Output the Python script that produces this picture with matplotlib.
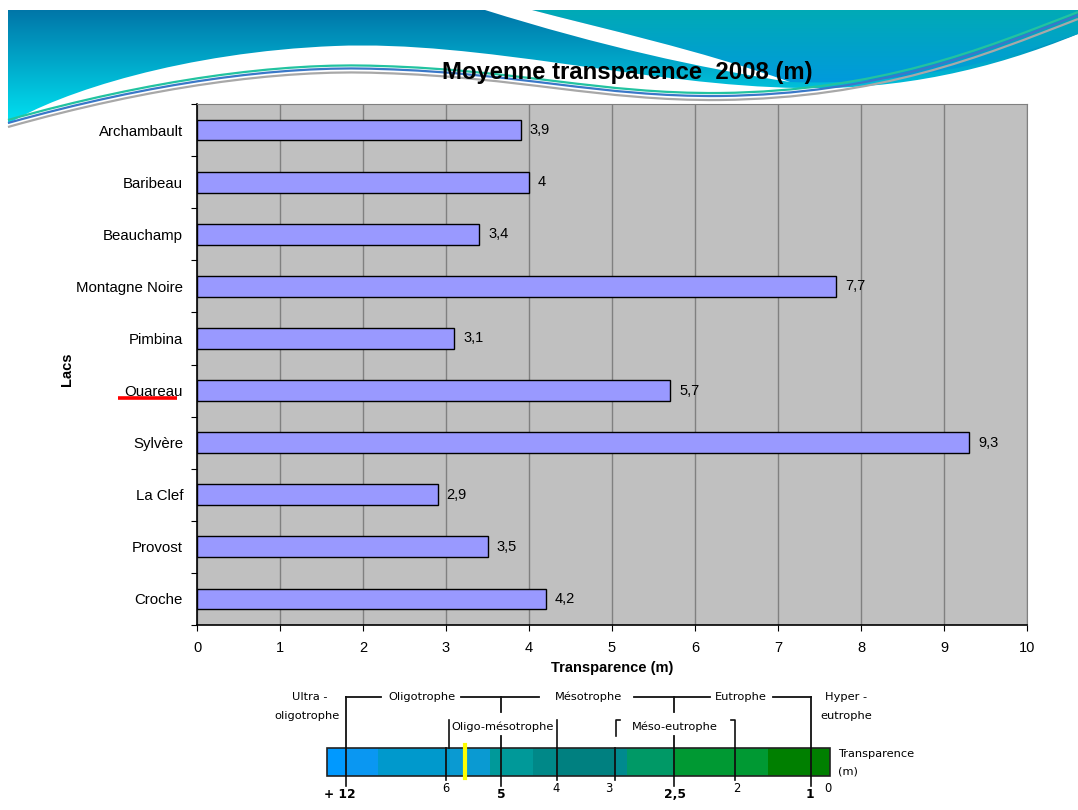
import numpy as np
import matplotlib
matplotlib.use("Agg")
import matplotlib.pyplot as plt
from matplotlib.path import Path
from matplotlib.patches import PathPatch, Rectangle
from matplotlib.colors import to_rgb

plt.rcParams['font.family'] = ['Liberation Sans', 'DejaVu Sans']

# ---- data -------------------------------------------------------------
lakes = ["Archambault", "Baribeau", "Beauchamp", "Montagne Noire", "Pimbina",
         "Ouareau", "Sylvère", "La Clef", "Provost", "Croche"]
transparency = [3.9, 4.0, 3.4, 7.7, 3.1, 5.7, 9.3, 2.9, 3.5, 4.2]
x_ticks = list(range(0, 11))

# trophic scale legend (transparency in m)
scale_labels = ["+ 12", "6", "5", "4", "3", "2,5", "2", "1", "0"]
scale_bold = [True, False, True, False, False, True, False, True, False]

W, H = 1078, 810
fig = plt.figure(figsize=(W / 100, H / 100), dpi=100)

# ---- decorative slide background (pixel coordinates) -------------------
bg = fig.add_axes([0, 0, 1, 1], zorder=0)
bg.set_xlim(0, W)
bg.set_ylim(H, 0)
bg.axis("off")


def bez_path(start, segs, close=True):
    verts = [start]
    codes = [Path.MOVETO]
    for seg in segs:
        if len(seg) == 3:
            verts += list(seg)
            codes += [Path.CURVE4] * 3
        else:
            verts.append(seg[0])
            codes.append(Path.LINETO)
    if close:
        verts.append(start)
        codes.append(Path.CLOSEPOLY)
    return Path(verts, codes)


def gradient(c_top, c_bot, n=200):
    a, b = np.array(to_rgb(c_top)), np.array(to_rgb(c_bot))
    t = np.linspace(0, 1, n)[:, None]
    return (a * (1 - t) + b * t)[:, None, :]


# main blue band with white hump underneath
blue_path = bez_path((1078, 34), [
    ((990, 70), (900, 90), (800, 88)),
    ((650, 86), (480, 40), (335, 46)),
    ((185, 52), (60, 92), (8, 124)),
    ((8, 10),),
    ((1078, 10),),
])
patch = PathPatch(blue_path, fc="none", ec="none")
bg.add_patch(patch)
im = bg.imshow(gradient("#0076A8", "#00E6F4"), extent=[0, W, 128, 10],
               origin="upper", aspect="auto", zorder=1)
im.set_clip_path(patch)

# teal region above the white swoosh
teal_path = bez_path((532, 10), [
    ((600, 28), (700, 50), (790, 82)),
    ((900, 86), (1000, 62), (1078, 34)),
    ((1078, 10),),
])
patch2 = PathPatch(teal_path, fc="none", ec="none")
bg.add_patch(patch2)
im2 = bg.imshow(gradient("#00AAB6", "#0098E2"), extent=[0, W, 92, 10],
                origin="upper", aspect="auto", zorder=2)
im2.set_clip_path(patch2)

# white swoosh
swoosh = bez_path((532, 10), [
    ((600, 28), (700, 50), (790, 82)),
    ((700, 68), (600, 46), (485, 10)),
])
bg.add_patch(PathPatch(swoosh, fc="white", ec="none", zorder=3))

# thin wave lines across the header
for dy, col in [(0, "#22C3A0"), (3, "#3A78C8"), (7, "#A8A8A8")]:
    wave = bez_path((8, 120 + dy), [
        ((150, 80 + dy), (280, 62 + dy), (380, 66 + dy)),
        ((520, 70 + dy), (600, 94 + dy), (720, 93 + dy)),
        ((880, 91 + dy), (980, 50 + dy), (1078, 12 + dy)),
    ], close=False)
    bg.add_patch(PathPatch(wave, fc="none", ec=col, lw=1.6, zorder=4))

bg.text(627, 73, "Moyenne transparence  2008 (m)", ha="center", va="center",
        fontsize=17.2, fontweight="bold", color="black", zorder=6)

# red underline under one lake name
bg.plot([118, 177], [398, 398], color="red", lw=2.6, solid_capstyle="butt", zorder=5)

# ---- bar chart --------------------------------------------------------
ax = fig.add_axes([197 / W, (H - 625) / H, 830 / W, 521 / H], zorder=2)
ax.set_facecolor("#C0C0C0")
ypos = np.arange(len(lakes))
ax.barh(ypos, transparency, height=0.4, color="#9999FF", edgecolor="black",
        linewidth=1.0, zorder=3)
for y, v in zip(ypos, transparency):
    ax.annotate(f"{v:g}".replace(".", ","), (v, y), xytext=(6.5, 0),
                textcoords="offset points", ha="left", va="center", fontsize=10.5)

ax.set_xlim(0, 10)
ax.set_ylim(len(lakes) - 0.5, -0.5)
ax.set_xticks(x_ticks)
ax.set_xticklabels([str(t) for t in x_ticks], fontsize=10.5)
ax.set_yticks(ypos)
ax.set_yticklabels(lakes, fontsize=10.8)
ax.set_yticks(np.arange(-0.5, len(lakes), 1), minor=True)
ax.tick_params(axis="y", which="major", length=0, pad=10)
ax.tick_params(axis="y", which="minor", length=4, width=0.8, color="black")
ax.tick_params(axis="x", which="major", length=4, width=0.8, pad=7.5)
ax.xaxis.grid(True, color="#808080", lw=1.0, zorder=1)
ax.set_axisbelow(True)
for s in ("top", "right"):
    ax.spines[s].set_color("#808080")
for s in ("left", "bottom"):
    ax.spines[s].set_color("black")
    ax.spines[s].set_linewidth(1.2)

ax.set_xlabel("Transparence (m)", fontsize=10.5, fontweight="bold", labelpad=4)
ax.set_ylabel("Lacs", fontsize=10.5, fontweight="bold")
ax.yaxis.set_label_coords((74 - 197) / 830, 0.49)

# ---- trophic scale legend (pixel coordinates) --------------------------
seg_edges = [327, 347, 378, 450, 490, 502, 533, 558, 615, 627, 673, 735, 768, 830]
seg_cols = ["#0099FF", "#0A97F2", "#0099CC", "#0A9AD2", "#00999A", "#009999",
            "#008888", "#008080", "#008A8E", "#009966", "#009933", "#009933",
            "#007F00"]
bar_top, bar_bot = 748, 776
for x0, x1, c in zip(seg_edges[:-1], seg_edges[1:], seg_cols):
    bg.add_patch(Rectangle((x0, bar_top), x1 - x0, bar_bot - bar_top,
                           fc=c, ec="none", zorder=5))
bg.add_patch(Rectangle((327, bar_top), 503, bar_bot - bar_top, fc="none",
                       ec="#222222", lw=1.2, zorder=6))

tick_x = [346, 446, 501, 557, 615, 674, 735, 811]
tick_long = [True, False, True, False, False, True, False, True]
for x, lg in zip(tick_x, tick_long):
    bg.plot([x, x], [bar_top, bar_bot], color="#111111", lw=1.3, zorder=7)
    bg.plot([x, x], [bar_bot, 786 if lg else 780], color="#111111", lw=1.2, zorder=7)
# current position marker
bg.plot([465, 465], [745, 778], color="#FFFF00", lw=3, zorder=8)

label_x = [340, 446, 501, 556, 609, 675, 737, 810, 828]
for x, lab, b in zip(label_x, scale_labels, scale_bold):
    bg.text(x, 795 if b else 789, lab, ha="center", va="center",
            fontsize=8.8 if b else 8.3, fontweight="bold" if b else "normal",
            family="DejaVu Sans", zorder=7)

kw = dict(family="DejaVu Sans", fontsize=8.2, zorder=7, va="center")
# upper bracket row
top_y = 697
for xa, xb in [(346, 381), (461, 539), (634, 710), (773, 811)]:
    bg.plot([xa, xb], [top_y, top_y], color="#111111", lw=1.3, zorder=7)
bg.plot([346, 346], [top_y, bar_top], color="#111111", lw=1.3, zorder=7)
bg.plot([811, 811], [top_y, bar_top], color="#111111", lw=1.3, zorder=7)
for x in (501, 674):
    bg.plot([x, x], [top_y, 712], color="#111111", lw=1.3, zorder=7)
    bg.plot([x, x], [736, bar_top], color="#111111", lw=1.3, zorder=7)
bg.text(422, top_y, "Oligotrophe", ha="center", **kw)
bg.text(588, top_y, "Mésotrophe", ha="center", **kw)
bg.text(741, top_y, "Eutrophe", ha="center", **kw)
bg.text(310, top_y, "Ultra -", ha="center", **kw)
bg.text(307, 716, "oligotrophe", ha="center", **kw)
bg.text(846, top_y, "Hyper -", ha="center", **kw)
bg.text(846, 716, "eutrophe", ha="center", **kw)

# lower bracket row
low_y = 727
bg.text(503, low_y, "Oligo-mésotrophe", ha="center", **kw)
bg.text(675, low_y, "Méso-eutrophe", ha="center", **kw)
bg.plot([449, 449], [720, bar_top], color="#111111", lw=1.2, zorder=7)
bg.plot([557, 557], [720, bar_top], color="#111111", lw=1.2, zorder=7)
bg.plot([620, 616, 616], [720, 720, 736], color="#111111", lw=1.2, zorder=7)
bg.plot([731, 735, 735], [720, 720, 748], color="#111111", lw=1.2, zorder=7)

bg.text(838, 754, "Transparence", ha="left", **kw)
bg.text(838, 772, "(m)", ha="left", **kw)

fig.savefig("out.png", dpi=100, facecolor="white")
